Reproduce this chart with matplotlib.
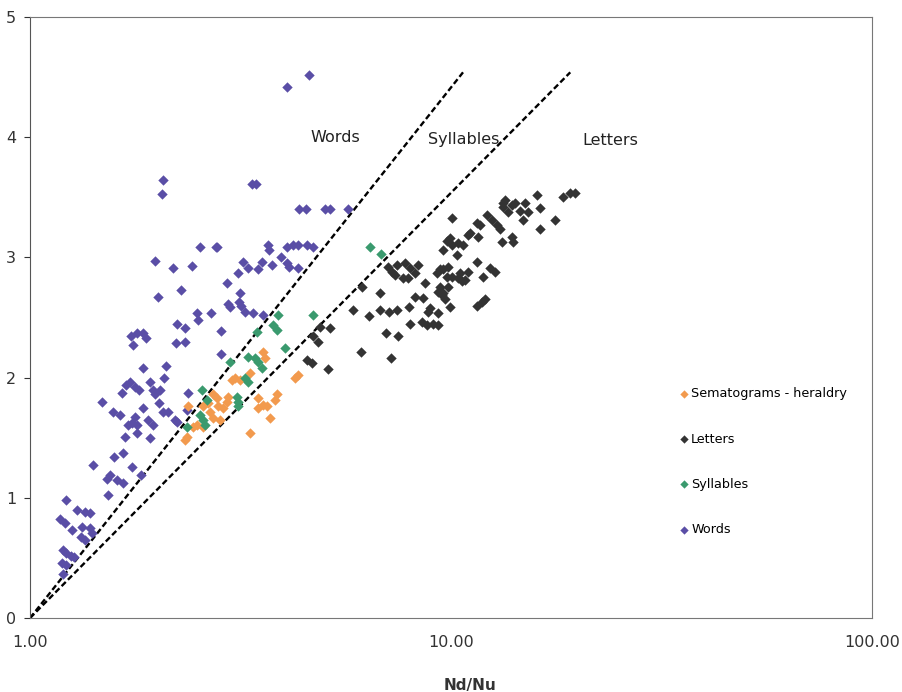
import numpy as np
import matplotlib
matplotlib.use("Agg")
import matplotlib.pyplot as plt
from matplotlib.ticker import FixedLocator, FixedFormatter

# Nd/Nu , y values
sema_x = [3.58, 3.61, 3.02, 3.07, 3.15, 3.33, 4.33, 4.26, 2.72, 2.78, 2.95, 2.94, 2.58, 2.65,
          2.80, 2.87, 2.37, 3.48, 3.58, 3.66, 3.86, 3.82, 3.48, 3.72, 3.33, 2.72, 2.83, 2.44,
          2.49, 2.36, 2.33, 2.58, 2.68]
sema_y = [2.21, 2.16, 1.98, 2.00, 1.98, 2.04, 2.02, 2.00, 1.86, 1.83, 1.84, 1.80, 1.76, 1.79,
          1.76, 1.75, 1.76, 1.83, 1.77, 1.76, 1.86, 1.81, 1.75, 1.66, 1.54, 1.66, 1.65, 1.59,
          1.61, 1.51, 1.48, 1.59, 1.71]

letters_x = [4.55, 4.68, 5.10, 4.70, 4.83, 4.88, 5.16, 6.11, 7.20, 5.85, 6.15, 6.39, 6.78, 6.78,
             7.13, 7.44, 7.01, 7.48, 7.95, 7.99, 8.53, 8.77, 9.06, 9.31, 8.82, 9.31, 9.95, 11.53,
             11.85, 7.09, 7.24, 7.44, 7.78, 7.99, 8.21, 7.91, 8.68, 8.21, 8.58, 9.31, 9.52, 9.68,
             9.26, 9.57, 9.78, 10.33, 9.78, 10.06, 10.39, 10.68, 10.50, 10.80, 10.98, 10.06, 11.53,
             11.72, 11.09, 11.59, 9.57, 12.18, 12.52, 12.86, 13.08, 13.44, 13.29, 13.66, 13.96,
             14.19, 14.58, 14.99, 15.24, 16.01, 16.27, 14.83, 16.27, 17.66, 18.45, 19.17, 19.70,
             13.22, 13.96, 14.04, 11.53, 12.38, 12.72, 11.91, 9.84, 10.06, 10.39, 10.62, 9.42,
             9.57, 9.84, 12.04, 8.92, 7.69, 8.35, 7.36, 9.95, 10.98, 9.42, 13.29]
letters_y = [2.15, 2.12, 2.07, 2.35, 2.30, 2.42, 2.41, 2.21, 2.16, 2.56, 2.75, 2.51, 2.70, 2.56,
             2.55, 2.56, 2.37, 2.35, 2.59, 2.45, 2.46, 2.44, 2.45, 2.44, 2.55, 2.54, 2.59, 2.60,
             2.63, 2.92, 2.88, 2.94, 2.95, 2.91, 2.87, 2.83, 2.79, 2.67, 2.66, 2.71, 2.69, 2.65,
             2.87, 2.90, 2.84, 3.02, 3.14, 3.10, 3.12, 3.10, 2.87, 2.81, 2.88, 3.33, 3.29,
             3.27, 3.20, 3.17, 3.06, 3.35, 3.31, 3.27, 3.24, 3.48, 3.42, 3.38, 3.44,
             3.45, 3.39, 3.45, 3.38, 3.52, 3.41, 3.31, 3.24, 3.31, 3.50, 3.54, 3.54,
             3.13, 3.17, 3.13, 2.96, 2.91, 2.88, 2.84, 2.92, 2.84, 2.83, 2.80, 2.75,
             2.70, 2.75, 2.65, 2.58, 2.83, 2.94, 2.85, 3.16, 3.19, 2.90, 3.45]

syll_x = [3.88, 3.78, 3.86, 4.70, 4.03, 3.46, 3.30, 3.42, 3.48, 3.56, 2.99, 3.24, 3.30, 3.10,
          3.12, 3.12, 2.56, 2.63, 2.53, 2.58, 2.60, 2.36, 6.42, 6.82]
syll_y = [2.52, 2.44, 2.40, 2.52, 2.25, 2.38, 2.17, 2.16, 2.13, 2.08, 2.13, 2.00, 1.96, 1.84,
          1.80, 1.76, 1.90, 1.81, 1.69, 1.65, 1.61, 1.59, 3.09, 3.03]

words_x = [4.60, 4.08, 2.07, 2.06, 3.37, 3.44, 4.36, 4.52, 5.02, 5.16, 5.69, 2.53, 2.77, 2.78,
           1.98, 2.18, 2.43, 2.28, 2.01, 2.94, 3.12, 3.21, 3.30, 3.48, 3.56, 3.76, 3.68, 3.70,
           3.95, 4.08, 4.21, 4.33, 4.55, 4.70, 4.08, 4.12, 4.33, 2.95, 2.99, 3.14, 3.17, 3.15,
           3.24, 3.39, 3.58, 2.49, 2.51, 2.69, 2.24, 2.33, 2.84, 1.74, 1.80, 1.85, 1.89, 1.76,
           2.22, 2.33, 2.84, 1.86, 2.10, 2.08, 1.93, 1.69, 1.73, 1.78, 1.81, 1.65, 1.96, 2.04,
           1.98, 1.48, 1.57, 1.64, 1.85, 1.78, 1.75, 1.80, 1.71, 1.91, 1.96, 2.03, 2.07, 2.13,
           2.21, 2.24, 2.37, 2.36, 1.93, 1.80, 1.68, 1.58, 1.66, 1.41, 1.75, 1.83, 1.55, 1.61,
           1.66, 1.52, 1.53, 1.22, 1.29, 1.35, 1.39, 1.18, 1.21, 1.26, 1.33, 1.39, 1.32, 1.35,
           1.40, 1.20, 1.22, 1.25, 1.27, 1.19, 1.22, 1.20]
words_y = [4.52, 4.42, 3.64, 3.53, 3.61, 3.61, 3.40, 3.40, 3.40, 3.40, 3.40, 3.09, 3.09, 3.09,
           2.97, 2.91, 2.93, 2.73, 2.67, 2.79, 2.87, 2.96, 2.91, 2.90, 2.96, 2.94, 3.10, 3.06,
           3.00, 3.09, 3.10, 3.10, 3.10, 3.09, 2.95, 2.92, 2.91, 2.61, 2.59, 2.63, 2.60, 2.70,
           2.55, 2.54, 2.52, 2.54, 2.48, 2.54, 2.45, 2.41, 2.39, 2.35, 2.37, 2.37, 2.33, 2.27,
           2.29, 2.30, 2.20, 2.08, 2.10, 2.00, 1.96, 1.94, 1.96, 1.92, 1.90, 1.87, 1.90, 1.90,
           1.86, 1.80, 1.71, 1.69, 1.75, 1.67, 1.62, 1.61, 1.61, 1.65, 1.61, 1.79, 1.71, 1.71,
           1.65, 1.63, 1.87, 1.73, 1.50, 1.54, 1.51, 1.34, 1.37, 1.27, 1.26, 1.19, 1.19, 1.15,
           1.12, 1.16, 1.02, 0.98, 0.90, 0.88, 0.87, 0.82, 0.79, 0.73, 0.76, 0.75, 0.67, 0.65,
           0.71, 0.57, 0.54, 0.52, 0.51, 0.46, 0.44, 0.37]

# dashed boundary lines
words_line_x = [1.0, 10.68]
words_line_y = [0.0, 4.54]
letters_line_x = [1.0, 19.2]
letters_line_y = [0.0, 4.54]

fig = plt.figure(figsize=(9.02, 6.92), dpi=100)
ax = fig.add_axes([0.0333, 0.1069, 0.9334, 0.8685])
ax.set_xscale("log")
ax.set_xlim(1, 100)
ax.set_ylim(0, 5)

ms = 28
ax.scatter(words_x, words_y, marker="D", s=ms, color="#5a4ea6", lw=0, label="Words", zorder=3)
ax.scatter(letters_x, letters_y, marker="D", s=ms, color="#333333", lw=0, label="Letters", zorder=3)
ax.scatter(sema_x, sema_y, marker="D", s=ms, color="#f29a4e", lw=0,
           label="Sematograms - heraldry", zorder=3)
ax.scatter(syll_x, syll_y, marker="D", s=ms, color="#3a9a6e", lw=0, label="Syllables", zorder=3)

ax.plot(words_line_x, words_line_y, color="black", lw=1.7, dashes=(2.5, 1.3), zorder=2)
ax.plot(letters_line_x, letters_line_y, color="black", lw=1.7, dashes=(2.5, 1.3), zorder=2)

ax.text(5.3, 4.0, "Words", fontsize=11.5, ha="center", va="center", color="#222222")
ax.text(10.7, 3.98, "Syllables", fontsize=11.5, ha="center", va="center", color="#222222")
ax.text(23.9, 3.97, "Letters", fontsize=11.5, ha="center", va="center", color="#222222")

h, l = ax.get_legend_handles_labels()
order = [2, 1, 3, 0]
ax.legend([h[i] for i in order], [l[i] for i in order], loc="upper left",
          bbox_to_anchor=(0.755, 0.403), frameon=False, fontsize=9.2,
          handletextpad=0.1, handlelength=1.0, labelspacing=2.52, markerscale=0.8)

ax.xaxis.set_major_locator(FixedLocator([1, 10, 100]))
ax.xaxis.set_major_formatter(FixedFormatter(["1.00", "10.00", "100.00"]))
ax.xaxis.set_minor_locator(FixedLocator([]))
ax.set_yticks([0, 1, 2, 3, 4, 5])
ax.tick_params(axis="y", direction="out", length=4, labelsize=11.5, colors="#333333", pad=6)
ax.tick_params(axis="x", length=0, labelsize=11.5, colors="#333333", pad=12)

for side in ["top", "right", "bottom"]:
    ax.spines[side].set_color("#777777")
ax.spines["left"].set_color("#555555")

ax.set_xlabel("Nd/Nu", fontsize=11, fontweight="bold", color="#333333")
ax.xaxis.set_label_coords(0.5226, -0.1)

fig.savefig("out.png", dpi=100)
